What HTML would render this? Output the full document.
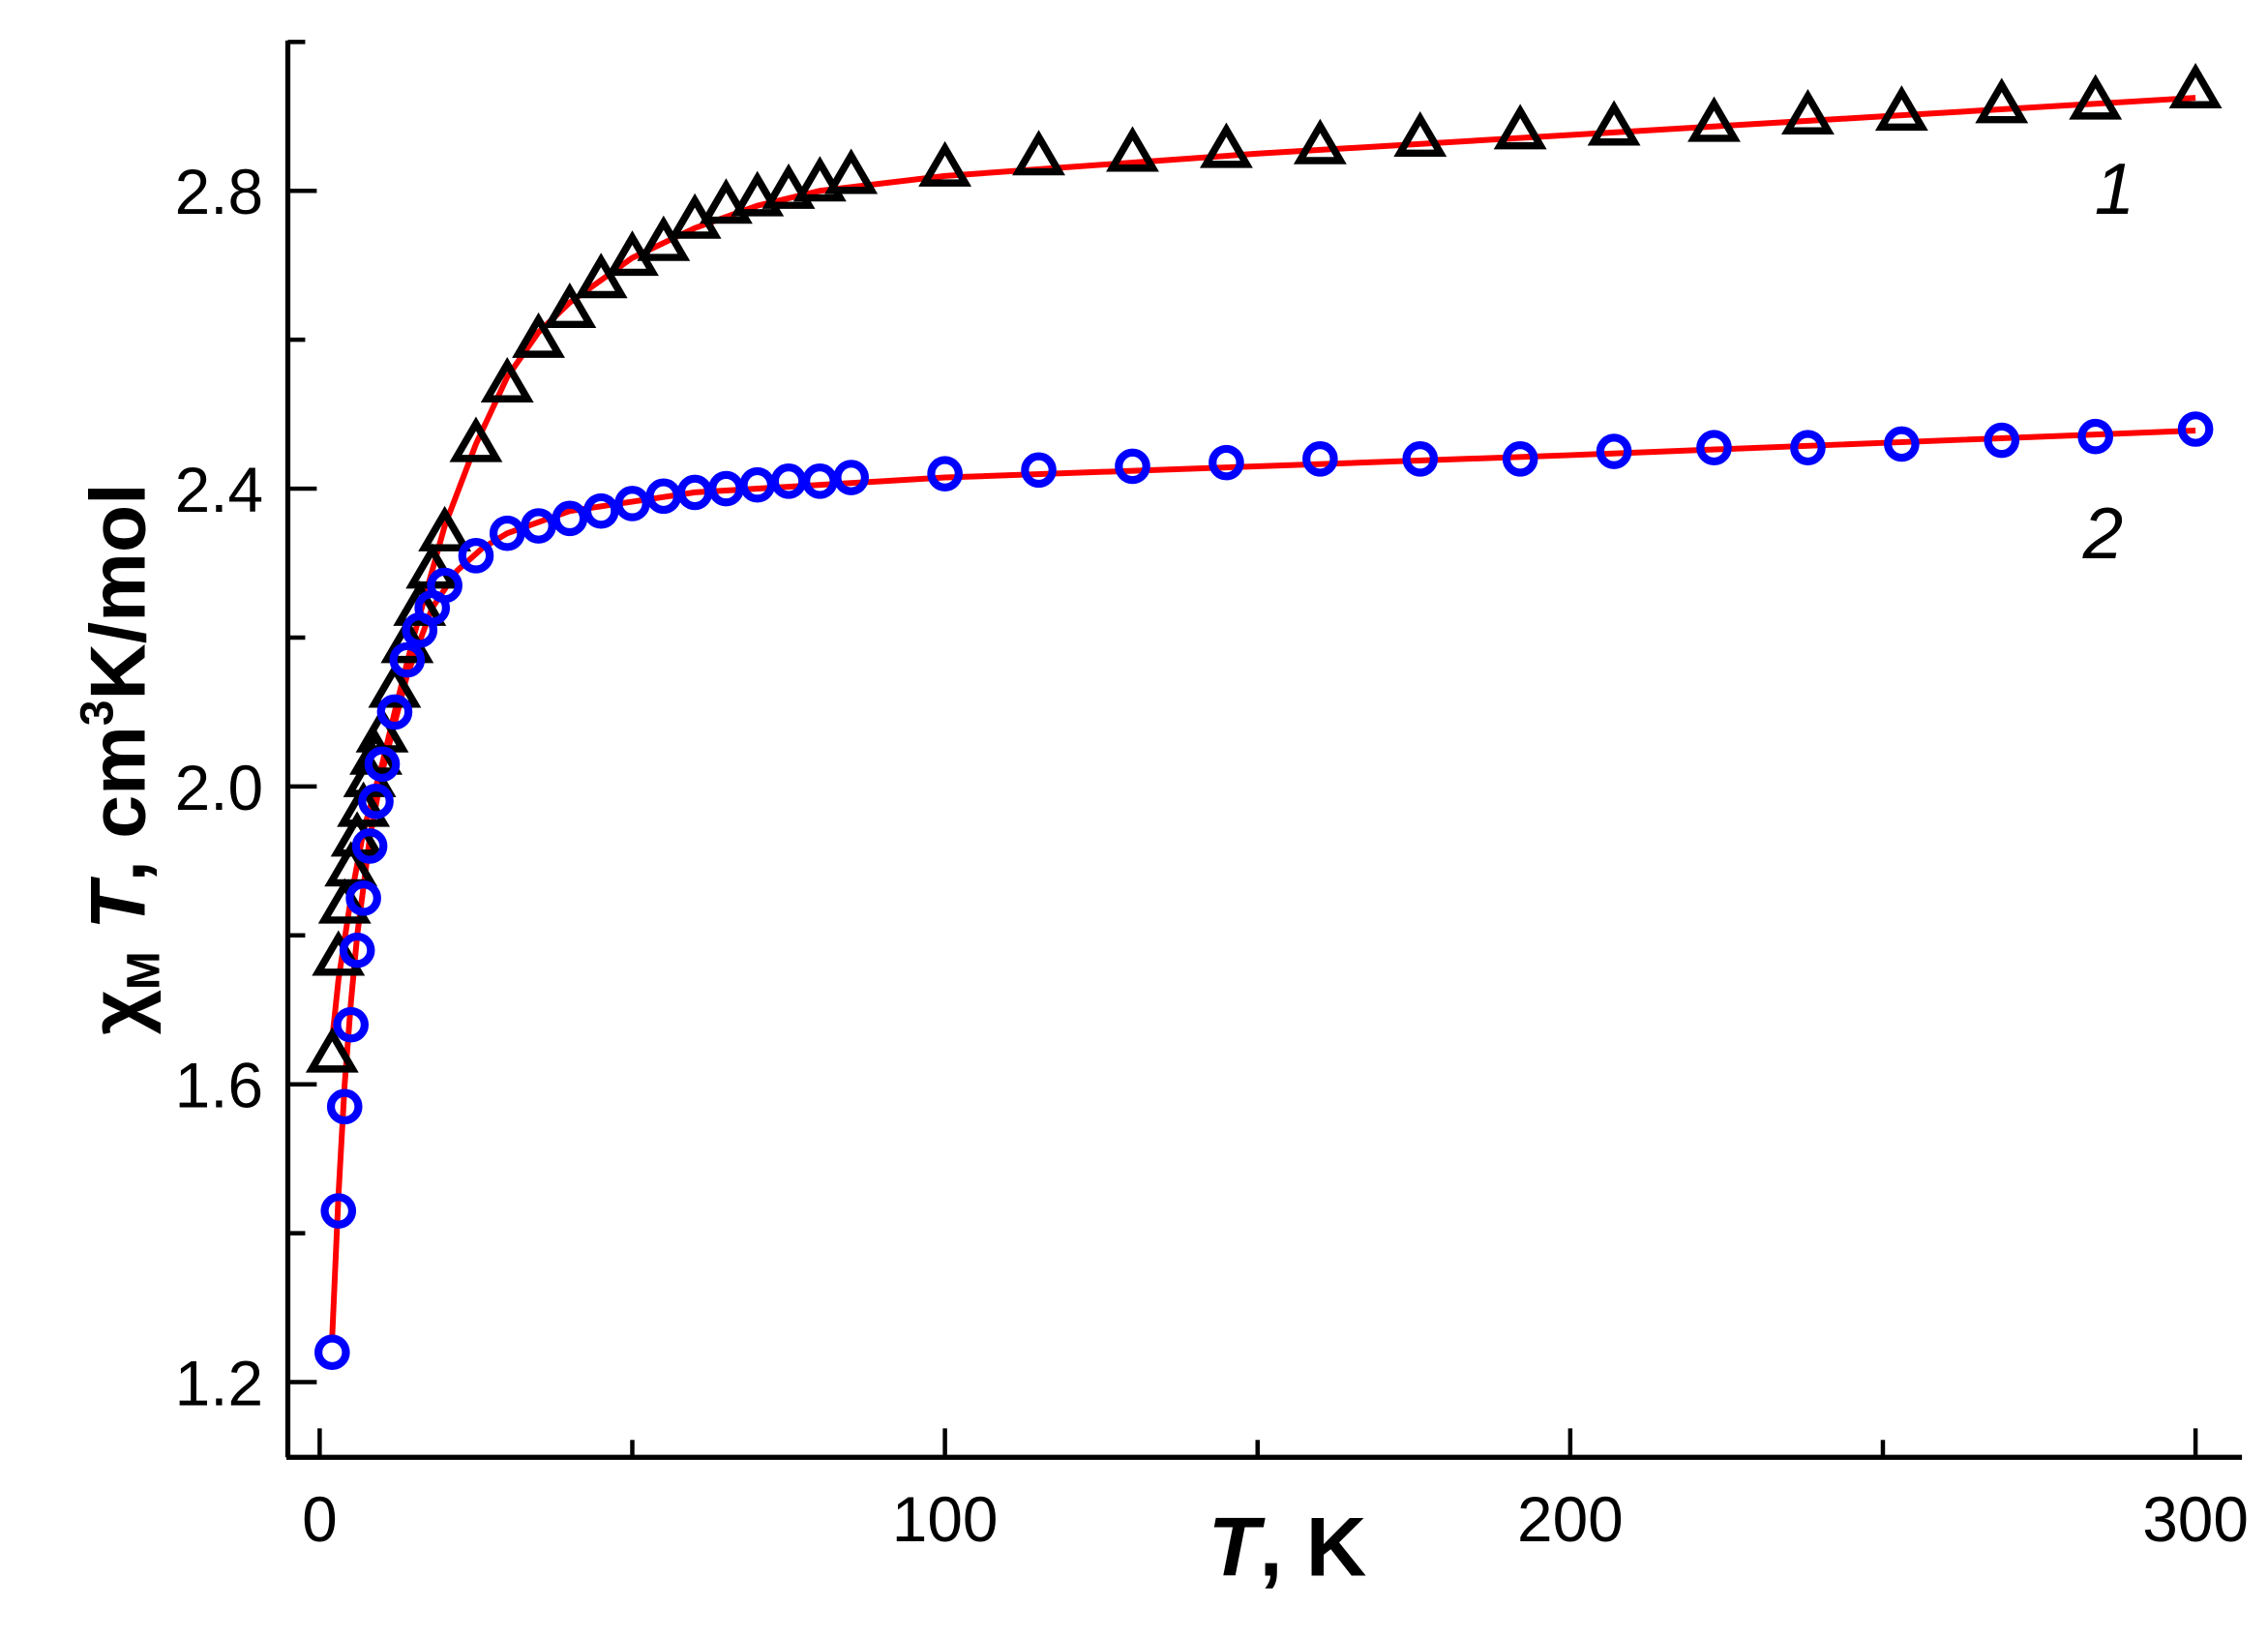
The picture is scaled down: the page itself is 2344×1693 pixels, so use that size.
<!DOCTYPE html>
<html><head><meta charset="utf-8"><style>
html,body{margin:0;padding:0;background:#fff;}
svg{display:block;}
text{font-family:"Liberation Sans",Arial,sans-serif;}
</style></head><body>
<svg id="s" width="2344" height="1693" viewBox="0 0 1568 1133" preserveAspectRatio="none" xmlns="http://www.w3.org/2000/svg">
<rect width="1568" height="1133" fill="#fff"/>
<g id="axes" stroke="#000" stroke-width="3.5" fill="none">
<line x1="199" y1="28" x2="199" y2="1008"/>
<line x1="198" y1="1008" x2="1550" y2="1008"/>
</g>
<g id="ticks" stroke="#000" stroke-width="3"></g>
<g id="lbl" font-size="44" fill="#000"></g>
<g id="fits" fill="none" stroke="#ff0000" stroke-width="4"></g>
<g id="m1" fill="none" stroke="#000" stroke-width="5"></g>
<g id="m2" fill="none" stroke="#0000ff" stroke-width="5.5"></g>
<text x="890" y="1090" font-size="58" font-weight="bold" text-anchor="middle"><tspan font-style="italic">T</tspan>, K</text>
<text transform="translate(100,525) rotate(-90)" font-size="54" font-weight="bold" text-anchor="middle">χ<tspan font-size="32" dy="10">M</tspan><tspan dy="-10" font-style="italic"> T</tspan>, cm<tspan font-size="32" dy="-22">3</tspan><tspan dy="22">K/mol</tspan></text>
<text x="1448" y="148" font-size="50" font-style="italic">1</text>
<text x="1440" y="386" font-size="50" font-style="italic">2</text>
</svg>
<script>
const NS="http://www.w3.org/2000/svg";
const X=t=>221+t*4.323, Y=v=>956-(v-1.2)*515;
function el(p,tag,a,txt){const e=document.createElementNS(NS,tag);for(const k in a)e.setAttribute(k,a[k]);if(txt)e.textContent=txt;document.getElementById(p).appendChild(e);}
for(let t=0;t<=300;t+=50){const L=t%100==0?20:12;el("ticks","line",{x1:X(t),y1:1008,x2:X(t),y2:1008-L});}
[0,100,200,300].forEach(t=>el("lbl","text",{x:X(t),y:1066,"text-anchor":"middle"},String(t)));
for(let v=1.0;v<=3.01;v+=0.2){const y=Y(v);if(y<28||y>1008)continue;const maj=Math.round(v*10)%4==0;el("ticks","line",{x1:199,y1:y,x2:199+(maj?20:12),y2:y});}
[1.2,1.6,2.0,2.4,2.8].forEach(v=>el("lbl","text",{x:182,y:Y(v)+16,"text-anchor":"end"},v.toFixed(1)));
const f1=[[2,1.66],[3,1.74],[5,1.85],[7,1.94],[10,2.03],[12,2.1],[15,2.2],[20,2.35],[25,2.46],[30,2.55],[35,2.61],[40,2.65],[50,2.71],[60,2.75],[70,2.78],[80,2.8],[100,2.82],[150,2.85],[200,2.875],[250,2.9],[300,2.925]];
const f2=[[2,1.26],[3,1.45],[4,1.6],[5,1.71],[6,1.8],[8,1.93],[10,2.02],[14,2.15],[18,2.24],[22,2.29],[26,2.32],[30,2.34],[40,2.37],[60,2.395],[100,2.415],[200,2.445],[300,2.478]];
[f1,f2].forEach(f=>el("fits","polyline",{points:f.map(p=>X(p[0])+","+Y(p[1])).join(" ")}));
const d1=[[2,1.64],[3,1.77],[4,1.84],[5,1.89],[6,1.93],[7,1.97],[8,2.01],[9,2.04],[10,2.07],[12,2.13],[14,2.19],[16,2.24],[18,2.29],[20,2.34],[25,2.46],[30,2.54],[35,2.6],[40,2.64],[45,2.68],[50,2.71],[55,2.73],[60,2.76],[65,2.78],[70,2.79],[75,2.8],[80,2.81],[85,2.82],[100,2.83],[115,2.845],[130,2.85],[145,2.855],[160,2.86],[176,2.87],[192,2.88],[207,2.885],[223,2.89],[238,2.9],[253,2.905],[269,2.915],[284,2.92],[300,2.935]];
const d2=[[2,1.24],[3,1.43],[4,1.57],[5,1.68],[6,1.78],[7,1.85],[8,1.92],[9,1.98],[10,2.03],[12,2.1],[14,2.17],[16,2.21],[18,2.24],[20,2.27],[25,2.31],[30,2.34],[35,2.35],[40,2.36],[45,2.37],[50,2.38],[55,2.39],[60,2.395],[65,2.4],[70,2.405],[75,2.41],[80,2.41],[85,2.415],[100,2.42],[115,2.425],[130,2.43],[145,2.435],[160,2.44],[176,2.44],[192,2.44],[207,2.45],[223,2.455],[238,2.455],[253,2.46],[269,2.465],[284,2.47],[300,2.48]];
d2.forEach(p=>el("m2","circle",{cx:X(p[0]),cy:Y(p[1]),r:9.5}));
d1.forEach(p=>{const x=X(p[0]),y=Y(p[1]);el("m1","polygon",{points:`${x},${y-14} ${x+14},${y+10} ${x-14},${y+10}`});});
</script>
</body></html>
